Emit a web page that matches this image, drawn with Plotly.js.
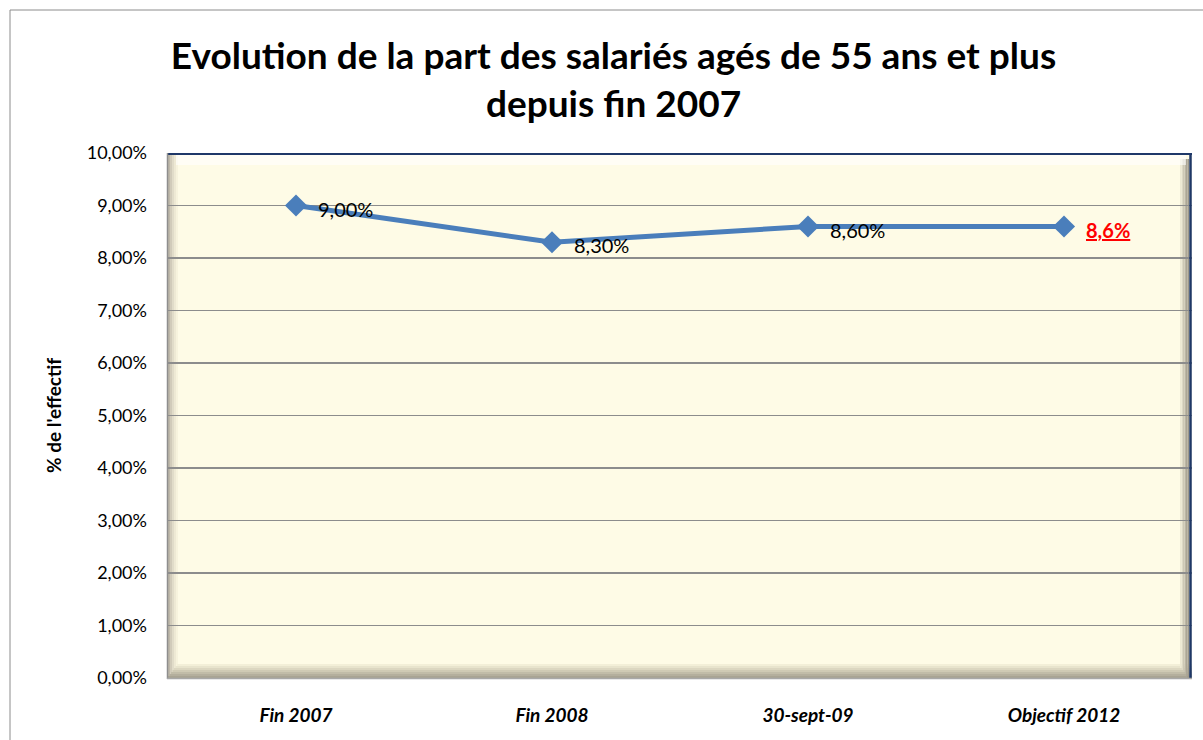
<!DOCTYPE html>
<html>
<head>
<meta charset="utf-8">
<script src="https://cdn.plot.ly/plotly-3.0.1.min.js"></script>
<style>html,body{margin:0;padding:0;background:#fff;}#chart{width:1203px;height:740px;}</style>
</head>
<body>
<div id="chart"></div>
<script>
// ---- data ----
var categories = ["Fin 2007", "Fin 2008", "30-sept-09", "Objectif 2012"];
var shareValues = [0.090, 0.083, 0.086, 0.086];
var valueLabels = ["9,00%", "8,30%", "8,60%", "<u><b>8,6%</b></u>"];
var labelColors = ["#000000", "#000000", "#000000", "#ff0000"];
var yTickValues = [0, 0.01, 0.02, 0.03, 0.04, 0.05, 0.06, 0.07, 0.08, 0.09, 0.10];

// ---- layout geometry (pixels) ----
var W = 1203, H = 740;
var PL = 168, PR = 1192, PT = 153, PB = 678;
var pw = PR - PL, ph = PB - PT;
function px(x){ return (x - PL) / pw; }
function py(y){ return (PB - y) / ph; }
function rect(x0, y0, x1, y1, color, opacity, layer){
  return {type:'rect', xref:'paper', yref:'paper', x0:px(x0), x1:px(x1), y0:py(y1), y1:py(y0),
          fillcolor:color, opacity:opacity, line:{width:0}, layer:layer||'below'};
}
var shapes = [];
// outer chart border
shapes.push({type:'rect', xref:'paper', yref:'paper', x0:px(10), x1:px(1210), y0:py(750), y1:py(10),
  line:{color:'#8c8c8c', width:1}, fillcolor:'rgba(0,0,0,0)', layer:'below'});
// left bevel
var leftCols = ['#bdb7a8','#d1cbba','#e1dcc9','#eee9d4','#f7f3dd'];
leftCols.forEach(function(c,i){ shapes.push(rect(PL+i*2, PT, PL+i*2+2, PB, c, 1)); });
// bottom bevel
var botCols = ['#a9a493','#b4af9d','#c1bca8','#cfcab4','#dcd7c1','#e8e4cd','#f3efd8'];
botCols.forEach(function(c,i){ shapes.push(rect(PL+i*1.5, PB-(i+1)*2, PR, PB-i*2, c, 1)); });
// right bevel
var rightCols = ['#9d9889','#aba696','#bcb7a5','#cdc8b5','#ddd9c5','#ede9d3'];
rightCols.forEach(function(c,i){ shapes.push(rect(PR-3-(i+1)*1.5, PT+6, PR-3-i*1.5, PB-i*2, c, 1)); });
// top highlight
shapes.push(rect(PL+8, PT+2, PR-6, PT+12, '#ffffff', 0.6));
// frame lines
shapes.push({type:'line', xref:'paper', yref:'paper', x0:px(PL), x1:px(PR), y0:py(PT+1), y1:py(PT+1), line:{color:'#1f3868', width:2}, layer:'above'});
shapes.push({type:'line', xref:'paper', yref:'paper', x0:px(PR-1.5), x1:px(PR-1.5), y0:py(PT), y1:py(PB), line:{color:'#1f3868', width:2.5}, layer:'above'});
shapes.push({type:'line', xref:'paper', yref:'paper', x0:px(PL-0.5), x1:px(PL-0.5), y0:py(PT), y1:py(PB+1), line:{color:'#8e8e8e', width:1.5}, layer:'above'});
shapes.push({type:'line', xref:'paper', yref:'paper', x0:px(PL-1), x1:px(PR), y0:py(PB+0.5), y1:py(PB+0.5), line:{color:'#a8a8a8', width:1.5}, layer:'above'});

var trace = {
  type:'scatter', mode:'lines+markers',
  x: categories, y: shareValues,
  line:{color:'#4a7ebb', width:5},
  marker:{symbol:'diamond', size:17, color:'#4a7ebb'},
  hoverinfo:'skip', cliponaxis:false, showlegend:false
};

// data labels, placed at each point through the axes
var labelAnnotations = categories.map(function(c, i){
  return {x:c, y:shareValues[i], xref:'x', yref:'y', text:valueLabels[i], showarrow:false,
          xanchor:'left', yanchor:'middle', xshift:20, yshift:-3,
          font:{family:'Lato, "Open Sans", sans-serif', size:20, color:labelColors[i]}};
});

var layout = {
  width:W, height:H,
  margin:{l:PL, r:W-PR, t:PT, b:H-PB, pad:0},
  paper_bgcolor:'#ffffff', plot_bgcolor:'#fefbe6',
  separators:', ',
  font:{family:'Lato, "Open Sans", sans-serif', color:'#000000'},
  title:{text:'<b>Evolution de la part des salariés agés de 55 ans et plus<br>depuis fin 2007</b>',
         font:{family:'Lato, sans-serif', size:37, color:'#000000'},
         x:0.51, xanchor:'center', xref:'container', y:1-69/740, yanchor:'middle', yref:'container'},
  xaxis:{type:'category', range:[-0.5, 3.5], showgrid:false, zeroline:false, showline:false, ticks:'',
         tickfont:{family:'Lato, sans-serif', size:19, color:'#000000', weight:'bold', style:'italic'},
         ticklabelstandoff:24, fixedrange:true},
  yaxis:{range:[0, 0.10], tickvals:yTickValues, tickformat:'.2%', showgrid:true, gridcolor:'#8c8c8c', gridwidth:1.5,
         zeroline:false, showline:false, ticks:'', ticklabelstandoff:20,
         tickfont:{family:'Lato, sans-serif', size:18, color:'#000000'},
         title:{text:"<b>% de l'effectif</b>", font:{family:'Lato, sans-serif', size:19, color:'#000000'}, standoff:20},
         fixedrange:true},
  annotations:labelAnnotations,
  shapes:shapes
};

Plotly.newPlot('chart', [trace], layout, {staticPlot:true, displayModeBar:false});
</script>
</body>
</html>
